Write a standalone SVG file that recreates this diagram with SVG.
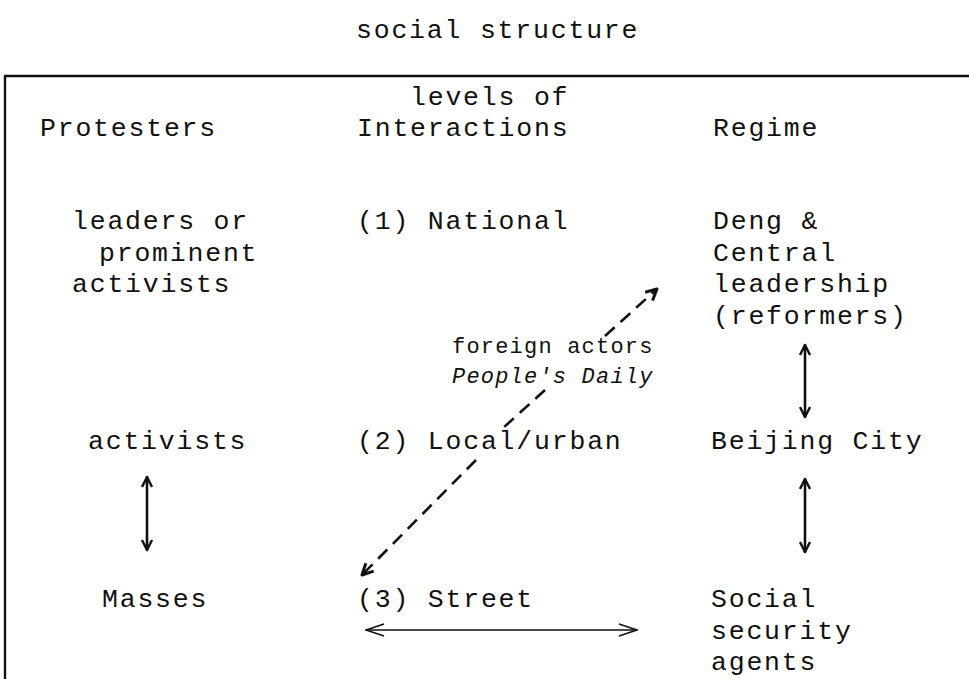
<svg xmlns="http://www.w3.org/2000/svg" width="969" height="679" viewBox="0 0 969 679">
  <style>
    text { font-family: "Liberation Mono", "DejaVu Sans Mono", monospace; font-size: 26.5px; letter-spacing: 1.8px; fill: #111; }
    .small { font-size: 22px; letter-spacing: 1.2px; }
    .ital { font-style: italic; }
    .solid { fill: none; stroke: #111; stroke-width: 2.6; stroke-linecap: round; }
    .thin { fill: none; stroke: #111; stroke-width: 1.6; stroke-linecap: round; }
    .dash { fill: none; stroke: #111; stroke-width: 2.6; stroke-dasharray: 13 8; }
    .frame { fill: none; stroke: #111; stroke-width: 2.4; }
  </style>
  <defs>
    <marker id="head" viewBox="0 0 12 12" refX="11" refY="6" markerWidth="12" markerHeight="12" markerUnits="userSpaceOnUse" orient="auto-start-reverse">
      <path d="M1,1 L11,6 L1,11" fill="none" stroke="#111" stroke-width="2.4" stroke-linejoin="round"/>
    </marker>
    <marker id="headThin" viewBox="0 0 20 14" refX="19" refY="7" markerWidth="20" markerHeight="14" markerUnits="userSpaceOnUse" orient="auto-start-reverse">
      <path d="M1,1 L19,7 L1,13" fill="none" stroke="#111" stroke-width="1.6" stroke-linejoin="round"/>
    </marker>
    <marker id="headDash" viewBox="0 0 14 14" refX="12.5" refY="7" markerWidth="14" markerHeight="14" markerUnits="userSpaceOnUse" orient="auto">
      <path d="M1.5,1.5 L12.5,7 L1.5,12.5" fill="none" stroke="#111" stroke-width="3" stroke-linejoin="round"/>
    </marker>
  </defs>

  <!-- heading and frame -->
  <text x="356" y="38">social structure</text>
  <path class="frame" d="M5,679 L5,76 L969,76"/>

  <!-- column headers -->
  <g id="hdr-protesters"><text x="40" y="136">Protesters</text></g>
  <g id="hdr-levels">
    <text x="410" y="105">levels of</text>
    <text x="357" y="136">Interactions</text>
  </g>
  <g id="hdr-regime"><text x="713" y="136">Regime</text></g>

  <!-- protesters column -->
  <g id="leaders">
    <text x="72" y="229">leaders or</text>
    <text x="99" y="260.5">prominent</text>
    <text x="72" y="292">activists</text>
  </g>
  <g id="activists"><text x="88" y="449">activists</text></g>
  <g id="masses"><text x="102" y="607">Masses</text></g>

  <!-- levels column -->
  <g id="national"><text x="357" y="229">(1) National</text></g>
  <g id="local"><text x="357" y="449">(2) Local/urban</text></g>
  <g id="street"><text x="357" y="607">(3) Street</text></g>

  <!-- regime column -->
  <g id="central">
    <text x="713" y="229">Deng &amp;</text>
    <text x="713" y="260.5">Central</text>
    <text x="713" y="292">leadership</text>
    <text x="713" y="323.5">(reformers)</text>
  </g>
  <g id="beijing"><text x="711" y="449">Beijing City</text></g>
  <g id="security">
    <text x="711" y="607">Social</text>
    <text x="711" y="638.5">security</text>
    <text x="711" y="670">agents</text>
  </g>

  <!-- label on the dashed link -->
  <g id="foreign">
    <text class="small" x="452" y="353">foreign actors</text>
    <text class="small ital" x="452" y="383">People's Daily</text>
  </g>

  <!-- connectors -->
  <g id="connectors">
    <line class="solid" x1="147" y1="477" x2="147" y2="550" marker-start="url(#head)" marker-end="url(#head)"/>
    <line class="solid" x1="805" y1="345" x2="805" y2="417" marker-start="url(#head)" marker-end="url(#head)"/>
    <line class="solid" x1="805" y1="479" x2="805" y2="552" marker-start="url(#head)" marker-end="url(#head)"/>
    <line class="thin" x1="366" y1="630" x2="637" y2="630" marker-start="url(#headThin)" marker-end="url(#headThin)"/>
    <path class="dash" d="M605,336 L657,289" marker-end="url(#headDash)"/>
    <path class="dash" d="M545,390 L503,428"/>
    <path class="dash" d="M476,460 L362,575" marker-end="url(#headDash)"/>
  </g>
</svg>
